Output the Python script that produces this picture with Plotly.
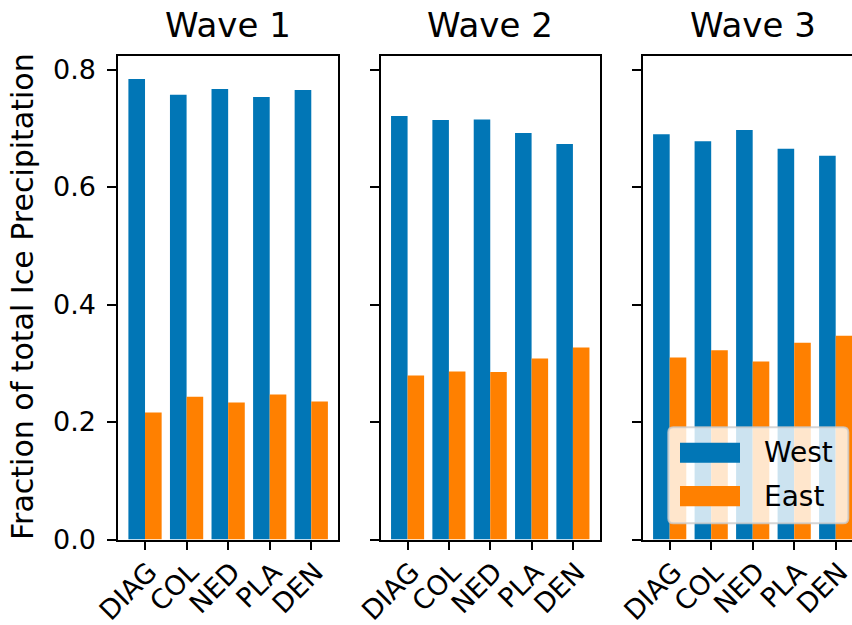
import plotly.graph_objects as go

# Sites and waves
sites = ["DIAG", "COL", "NED", "PLA", "DEN"]
waves = ["Wave 1", "Wave 2", "Wave 3"]

# Fraction of total ice precipitation, west side of the barrier
west_wave1 = [0.784, 0.757, 0.767, 0.753, 0.765]
west_wave2 = [0.721, 0.714, 0.715, 0.692, 0.673]
west_wave3 = [0.690, 0.678, 0.697, 0.665, 0.653]

# Fraction of total ice precipitation, east side of the barrier
east_wave1 = [0.216, 0.243, 0.233, 0.247, 0.235]
east_wave2 = [0.279, 0.286, 0.285, 0.308, 0.327]
east_wave3 = [0.310, 0.322, 0.303, 0.335, 0.347]

y_ticks = [0.0, 0.2, 0.4, 0.6, 0.8]

WEST_COLOR = "#0176B6"
EAST_COLOR = "#FF8000"
FONT = "DejaVu Sans"

W, H = 852, 625


def px_x(v):
    return v / W


def px_y(v):
    return 1 - v / H


west = [west_wave1, west_wave2, west_wave3]
east = [east_wave1, east_wave2, east_wave3]

fig = go.Figure()
for i in range(3):
    xa = "x" if i == 0 else f"x{i + 1}"
    ya = "y" if i == 0 else f"y{i + 1}"
    fig.add_trace(go.Bar(x=sites, y=west[i], name="West", marker_color=WEST_COLOR,
                         marker_line_width=0, xaxis=xa, yaxis=ya, showlegend=False))
    fig.add_trace(go.Bar(x=sites, y=east[i], name="East", marker_color=EAST_COLOR,
                         marker_line_width=0, xaxis=xa, yaxis=ya, showlegend=False))

# panel placement in pixels (left, right)
panels = [(118.3, 338.0), (381.0, 599.5), (643.0, 852.0)]
x_ranges = [[-0.643, 4.643], [-0.643, 4.643], [-0.643, 4.393]]
y_dom = [px_y(539.5), px_y(56.0)]

common_x = dict(
    type="category", showgrid=False, zeroline=False, showline=True, automargin=False,
    linecolor="black", linewidth=1.8, mirror=True,
    ticks="outside", ticklen=9, tickwidth=1.8, tickcolor="black",
    tickangle=-45, tickfont=dict(family=FONT, size=27, color="black"),
    ticklabelshift=4, ticklabelstandoff=-5,
)
common_y = dict(
    range=[0, 0.823], showgrid=False, zeroline=False, showline=True, automargin=False,
    linecolor="black", linewidth=1.8,
    ticks="outside", ticklen=9, tickwidth=1.8, tickcolor="black",
    tickvals=y_ticks, tickformat=".1f",
    tickfont=dict(family=FONT, size=27, color="black"),
    domain=y_dom,
)

layout = dict(
    width=W, height=H, autosize=False,
    margin=dict(l=0, r=0, t=0, b=0),
    paper_bgcolor="white", plot_bgcolor="white",
    barmode="group", bargap=0.2, bargroupgap=0.0,
    font=dict(family=FONT, color="black"),
)
for i in range(3):
    xk = "xaxis" if i == 0 else f"xaxis{i + 1}"
    yk = "yaxis" if i == 0 else f"yaxis{i + 1}"
    ax_x = dict(common_x)
    ax_x.update(domain=[px_x(panels[i][0]), px_x(panels[i][1])], range=x_ranges[i],
                anchor="y" if i == 0 else f"y{i + 1}")
    ax_y = dict(common_y)
    ax_y.update(anchor="x" if i == 0 else f"x{i + 1}",
                showticklabels=(i == 0), mirror=(i < 2), ticklabelstandoff=6)
    layout[xk] = ax_x
    layout[yk] = ax_y

fig.update_layout(**layout)

# panel titles
title_centers = [(118.3 + 338.0) / 2, (381.0 + 599.5) / 2, (643.0 + 862.5) / 2]
for name, cx in zip(waves, title_centers):
    fig.add_annotation(text=name, x=px_x(cx), y=px_y(25), xref="paper", yref="paper",
                       xanchor="center", yanchor="middle", showarrow=False,
                       font=dict(family=FONT, size=34, color="black"))

# y-axis title
fig.add_annotation(text="Fraction of total Ice Precipitation", x=px_x(22), y=px_y(297),
                   xref="paper", yref="paper", xanchor="center", yanchor="middle",
                   textangle=-90, showarrow=False,
                   font=dict(family=FONT, size=30, color="black"))

# legend box (rounded, translucent)
lx0, lx1, ly0, ly1, r = 668.3, 848.3, 427.3, 523.3, 5
path = (
    f"M {px_x(lx0 + r)},{px_y(ly0)} L {px_x(lx1 - r)},{px_y(ly0)} "
    f"Q {px_x(lx1)},{px_y(ly0)} {px_x(lx1)},{px_y(ly0 + r)} "
    f"L {px_x(lx1)},{px_y(ly1 - r)} Q {px_x(lx1)},{px_y(ly1)} {px_x(lx1 - r)},{px_y(ly1)} "
    f"L {px_x(lx0 + r)},{px_y(ly1)} Q {px_x(lx0)},{px_y(ly1)} {px_x(lx0)},{px_y(ly1 - r)} "
    f"L {px_x(lx0)},{px_y(ly0 + r)} Q {px_x(lx0)},{px_y(ly0)} {px_x(lx0 + r)},{px_y(ly0)} Z"
)
fig.add_shape(type="path", path=path, xref="paper", yref="paper", layer="above",
              fillcolor="rgba(255,255,255,0.8)", line=dict(color="rgba(204,204,204,0.8)", width=2))

legend_items = [("West", WEST_COLOR, 442.7, 462.7), ("East", EAST_COLOR, 486.0, 506.3)]
for label, color, t, b in legend_items:
    fig.add_shape(type="rect", xref="paper", yref="paper", layer="above",
                  x0=px_x(680), x1=px_x(740), y0=px_y(b), y1=px_y(t),
                  fillcolor=color, line=dict(width=0))
    fig.add_annotation(text=label, x=px_x(762), y=px_y((t + b) / 2), xref="paper", yref="paper",
                       xanchor="left", yanchor="middle", showarrow=False,
                       font=dict(family=FONT, size=28, color="black"))

fig.write_html("out.html")
